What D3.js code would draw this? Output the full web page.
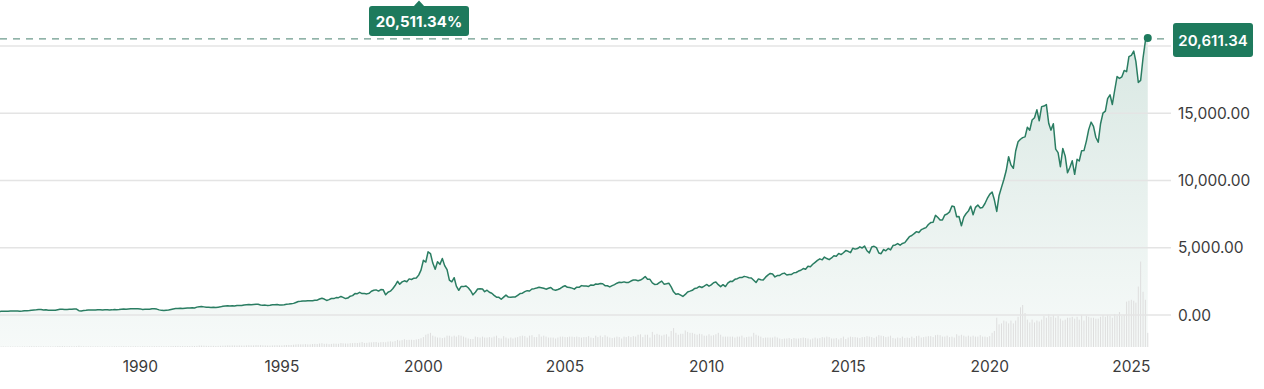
<!DOCTYPE html>
<html>
<head>
<meta charset="utf-8">
<script src="https://cdn.jsdelivr.net/npm/d3@7"></script>
<style>
  html, body { margin: 0; padding: 0; background: #fff; }
  svg { display: block; font-family: Inter, "Noto Sans", sans-serif; }
</style>
</head>
<body>
<svg id="chart" width="1264" height="389"></svg>
<script>
// monthly closes, first value = Dec 1984, each value dated at the end of its month
const closes1980s = [
  247.1,
  278.7, 284.2, 279.2, 280.6, 290.8, 296.2, 301.3, 298.0, 280.3, 292.5, 313.9, 324.9,
  335.8, 359.5, 374.7, 383.2, 400.2, 405.5, 371.4, 382.9, 350.7, 360.8, 359.6, 349.3,
  392.1, 424.0, 430.1, 417.8, 416.5, 424.7, 434.9, 454.9, 444.3, 323.3, 305.2, 330.5,
  344.7, 366.6, 374.6, 379.2, 370.3, 394.7, 387.3, 376.6, 387.7, 382.5, 371.5, 381.4,
  401.3, 399.7, 406.7, 427.6, 446.2, 435.3, 453.8, 469.3, 472.9, 456.1, 456.1, 454.8
];
const closes1990s = [
  415.8, 425.8, 435.5, 420.1, 459.0, 462.3, 438.2, 381.2, 344.5, 329.8, 359.1, 373.8,
  414.2, 453.1, 482.3, 484.7, 506.1, 475.9, 502.0, 525.7, 526.9, 543.0, 523.9, 586.3,
  620.2, 633.5, 603.8, 578.7, 585.3, 563.6, 580.8, 563.1, 583.3, 605.2, 652.7, 677.0,
  696.3, 670.8, 690.1, 661.4, 700.5, 704.0, 704.7, 742.8, 762.8, 779.3, 754.4, 776.8,
  800.5, 792.5, 743.5, 733.8, 735.2, 706.0, 722.2, 765.6, 764.3, 777.5, 750.3, 752.0,
  755.2, 793.7, 817.2, 844.0, 864.6, 933.5, 1001.2, 1020.1, 1043.5, 1036.1, 1059.2, 1052.1,
  1059.8, 1100.1, 1101.4, 1190.5, 1243.4, 1185.0, 1080.6, 1141.5, 1226.9, 1221.5, 1292.6, 1291.0,
  1379.9, 1309.0, 1221.7, 1260.8, 1400.3, 1442.1, 1593.8, 1587.3, 1685.7, 1593.6, 1600.6, 1570.4,
  1619.4, 1770.5, 1835.7, 1868.4, 1778.9, 1894.7, 1872.4, 1499.3, 1693.8, 1771.4, 1949.5, 2192.7,
  2505.9, 2288.0, 2461.4, 2542.9, 2470.5, 2686.1, 2638.5, 2739.4, 2746.2, 2966.4, 3336.2, 4069.3
];
const closes2000s = [
  3940.4, 4696.7, 4572.8, 3860.7, 3400.9, 3966.1, 3767.0, 4206.4, 3672.8, 3369.6, 2597.9, 2470.5,
  2772.7, 2151.8, 1840.3, 2116.2, 2110.5, 2160.5, 2027.1, 1805.4, 1498.8, 1690.2, 1930.6, 1950.4,
  1934.0, 1731.5, 1845.4, 1688.2, 1615.7, 1463.2, 1328.3, 1314.9, 1172.1, 1329.8, 1478.8, 1335.5,
  1320.9, 1337.5, 1341.2, 1464.3, 1595.9, 1622.8, 1735.0, 1810.5, 1786.9, 1932.2, 1960.3, 2003.4,
  2066.2, 2029.8, 1994.2, 1920.2, 1986.7, 2047.8, 1887.4, 1838.1, 1896.8, 1975.0, 2096.8, 2175.4,
  2062.4, 2051.7, 1999.2, 1921.7, 2068.2, 2057.0, 2184.8, 2152.1, 2151.7, 2120.3, 2232.8, 2205.3,
  2305.8, 2281.4, 2339.8, 2322.6, 2178.9, 2172.1, 2091.5, 2183.8, 2258.4, 2366.7, 2431.8, 2415.3,
  2463.9, 2416.2, 2421.6, 2525.1, 2604.5, 2603.2, 2546.3, 2596.4, 2701.5, 2859.1, 2661.0, 2652.3,
  2389.9, 2271.5, 2279.1, 2412.8, 2522.7, 2293.0, 2325.6, 2367.5, 2091.9, 1721.0, 1535.6, 1577.0,
  1476.4, 1377.8, 1528.6, 1717.3, 1774.3, 1835.0, 1978.5, 2009.1, 2122.4, 2045.1, 2144.6, 2269.2
];
const closes2010s = [
  2147.4, 2238.3, 2398.0, 2461.2, 2257.0, 2109.2, 2254.7, 2114.0, 2368.6, 2507.4, 2498.2, 2652.9,
  2700.1, 2782.3, 2781.1, 2873.5, 2835.3, 2773.5, 2756.4, 2579.5, 2415.4, 2684.4, 2620.3, 2605.2,
  2813.8, 2966.9, 3091.6, 3046.4, 2827.3, 2935.1, 2939.5, 3067.0, 3116.2, 2977.2, 3010.2, 3019.5,
  3142.1, 3160.2, 3267.5, 3328.8, 3455.9, 3403.3, 3626.4, 3589.9, 3771.5, 3919.7, 4059.9, 4176.6,
  4103.9, 4308.1, 4199.0, 4114.6, 4242.6, 4408.2, 4369.8, 4580.3, 4493.4, 4630.7, 4791.6, 4736.1,
  4635.2, 4963.5, 4900.9, 4941.4, 5070.0, 4986.9, 5128.3, 4776.5, 4620.2, 5053.8, 5108.7, 5007.4,
  4614.0, 4558.0, 4869.8, 4775.4, 4948.1, 4842.7, 5162.1, 5213.2, 5312.0, 5189.1, 5323.7, 5383.1,
  5614.8, 5825.4, 5911.7, 6047.6, 6198.5, 6140.4, 6348.1, 6428.7, 6496.0, 6727.7, 6874.0, 6903.4,
  7411.5, 7273.0, 7063.4, 7066.3, 7442.1, 7510.3, 7671.8, 8109.5, 8046.4, 7305.9, 7330.5, 6635.3,
  7281.7, 7532.5, 7729.3, 8095.4, 7453.1, 8006.2, 8175.4, 7962.9, 7999.3, 8292.4, 8665.5, 8972.6
];
const closes2020s = [
  9150.9, 8567.4, 7700.1, 8889.6, 9489.9, 10058.8, 10745.3, 11775.5, 11167.5, 10911.6, 12198.7, 12888.3,
  13070.7, 13192.3, 13246.9, 13962.7, 13748.7, 14504.0, 14672.7, 15259.2, 14448.6, 15498.4, 15537.7, 15645.0,
  14239.9, 13751.4, 14220.5, 12334.6, 12081.4, 11028.7, 12390.7, 11816.2, 10575.6, 10988.2, 11468.0, 10466.5,
  11584.6, 11455.5, 12221.9, 12226.6, 12935.3, 13787.9, 14346.0, 14035.0, 13219.3, 12851.2, 14226.2, 15011.4,
  15164.0, 16091.9, 16379.5, 15657.8, 16735.0, 17732.6, 17599.4, 17713.6, 18189.2, 18095.2, 19218.2, 19310.8,
  19627.4, 18847.3, 17299.3, 17446.3, 19113.8, 20369.7
];
const lastClose = 20611.34;
const lastDate = new Date(2025, 7, 1);

// monthly volume (billions of shares), first value = Jan 1985
const vol1980s = [
  1.0, 1.1, 1.0, 1.0, 1.1, 1.0, 1.1, 1.0, 1.0, 1.1, 1.2, 1.2,
  1.4, 1.5, 1.6, 1.5, 1.4, 1.4, 1.3, 1.3, 1.3, 1.3, 1.3, 1.3,
  1.8, 1.9, 2.0, 1.8, 1.6, 1.6, 1.6, 1.7, 1.6, 2.6, 1.5, 1.4,
  1.3, 1.4, 1.4, 1.3, 1.2, 1.4, 1.2, 1.1, 1.1, 1.1, 1.1, 1.2,
  1.4, 1.3, 1.4, 1.4, 1.6, 1.5, 1.4, 1.6, 1.5, 1.6, 1.4, 1.3
];
const vol1990s = [
  1.6, 1.4, 1.5, 1.4, 1.6, 1.7, 1.7, 1.6, 1.4, 1.4, 1.5, 1.4,
  1.9, 2.1, 2.2, 2.3, 2.0, 2.0, 2.0, 1.9, 2.1, 2.3, 2.1, 2.4,
  3.0, 3.0, 2.8, 2.6, 2.3, 2.4, 2.4, 2.1, 2.4, 2.6, 2.8, 2.9,
  3.4, 3.2, 3.3, 3.2, 3.1, 3.3, 3.0, 3.0, 3.4, 3.6, 3.4, 3.5,
  3.9, 3.7, 3.9, 3.4, 3.3, 3.1, 3.0, 3.3, 3.5, 3.6, 3.4, 3.3,
  4.0, 4.2, 4.4, 4.2, 4.8, 5.4, 5.8, 5.6, 5.6, 6.0, 5.5, 5.6,
  6.4, 6.6, 6.2, 7.4, 8.0, 6.6, 7.0, 6.0, 6.5, 7.2, 7.0, 6.8,
  8.4, 7.8, 7.4, 7.2, 8.0, 8.2, 8.6, 8.4, 9.2, 10.5, 8.6, 8.8,
  9.6, 9.8, 10.4, 10.6, 9.2, 10.2, 10.4, 10.0, 11.4, 12.0, 11.2, 12.6,
  15.0, 13.4, 14.6, 16.4, 15.0, 15.2, 15.4, 14.8, 16.0, 17.0, 18.6, 21.0
];
const vol2000s = [
  26, 28, 30, 24, 22, 20, 20, 19, 20, 24, 24, 22,
  24, 22, 25, 24, 22, 20, 18, 17, 17, 22, 21, 20,
  22, 20, 20, 21, 20, 22, 24, 19, 18, 23, 20, 18,
  20, 18, 20, 21, 23, 24, 23, 20, 24, 25, 21, 21,
  27, 22, 24, 22, 20, 20, 20, 18, 20, 22, 22, 21,
  21, 22, 22, 21, 22, 21, 20, 21, 21, 23, 20, 19,
  24, 21, 24, 21, 25, 22, 20, 19, 20, 22, 21, 18,
  22, 21, 23, 21, 23, 22, 26, 27, 21, 26, 26, 20,
  32, 26, 28, 26, 24, 26, 27, 22, 34, 40, 30, 26,
  28, 28, 35, 32, 30, 30, 28, 26, 28, 27, 24, 24
];
const vol2010s = [
  27, 24, 25, 27, 30, 26, 22, 22, 22, 22, 22, 20,
  22, 22, 24, 20, 21, 22, 22, 30, 26, 24, 22, 19,
  20, 20, 20, 20, 22, 20, 18, 17, 18, 18, 19, 17,
  19, 18, 18, 19, 20, 19, 18, 16, 18, 20, 18, 19,
  21, 20, 22, 21, 18, 18, 19, 16, 19, 22, 17, 20,
  22, 21, 21, 20, 19, 21, 21, 23, 22, 21, 19, 22,
  25, 24, 23, 21, 22, 24, 19, 18, 20, 19, 22, 19,
  20, 19, 22, 19, 23, 24, 20, 21, 22, 23, 23, 21,
  25, 26, 25, 22, 22, 24, 21, 22, 20, 27, 24, 26,
  24, 22, 24, 22, 24, 22, 22, 25, 22, 22, 21, 23
];
const vol2020s = [
  30, 34, 62, 48, 50, 56, 54, 50, 56, 50, 56, 64,
  84, 89, 72, 58, 52, 58, 52, 56, 54, 58, 66, 62,
  70, 64, 68, 62, 66, 60, 56, 58, 62, 62, 64, 60,
  64, 58, 68, 56, 66, 64, 62, 62, 60, 60, 64, 68,
  64, 68, 66, 62, 70, 66, 74, 66, 68, 96, 98, 100,
  98, 94, 128, 181, 117, 100, 30
];

const yTicks = [0, 5000, 10000, 15000, 20000];
const xTickYears = [1990, 1995, 2000, 2005, 2010, 2015, 2020, 2025];
const changeLabel = "20,511.34%";

const green = "#1e7a5d";
const lineColor = "#2a7d62";
const textColor = "#3b3b3b";

const svg = d3.select("#chart");

const x = d3.scaleTime()
  .domain([new Date(1990, 0, 1), new Date(2020, 0, 1)])
  .range([140.3, 989.7]);
const y = d3.scaleLinear().domain([0, 20000]).range([315, 46.1]);
const v = d3.scaleLinear().domain([0, 180]).range([347, 262]);

const closes = [].concat(closes1980s, closes1990s, closes2000s, closes2010s, closes2020s);
const series = closes.map((c, i) => ({ date: d3.timeMonth.offset(new Date(1985, 0, 1), i), value: c }));
series.push({ date: lastDate, value: lastClose });

const vols = [].concat(vol1980s, vol1990s, vol2000s, vol2010s, vol2020s);
const volData = vols.map((d, i) => ({ date: d3.timeMonth.offset(new Date(1985, 1, 1), i), vol: d }));

// gradient under the line
const defs = svg.append("defs");
const grad = defs.append("linearGradient")
  .attr("id", "fillGrad")
  .attr("gradientUnits", "userSpaceOnUse")
  .attr("x1", 0).attr("y1", 38).attr("x2", 0).attr("y2", 347);
grad.append("stop").attr("offset", 0).attr("stop-color", lineColor).attr("stop-opacity", 0.18);
grad.append("stop").attr("offset", 1).attr("stop-color", lineColor).attr("stop-opacity", 0.04);

svg.append("path")
  .datum(series)
  .attr("fill", "url(#fillGrad)")
  .attr("d", d3.area().x(d => x(d.date)).y0(v(0)).y1(d => y(d.value)));

// volume bars
svg.append("g")
  .selectAll("rect")
  .data(volData)
  .join("rect")
  .attr("x", d => x(d.date) - 0.5)
  .attr("width", 1)
  .attr("y", d => v(d.vol))
  .attr("height", d => v(0) - v(d.vol))
  .attr("fill", "#dedede");

// gridlines
svg.append("g")
  .selectAll("line")
  .data(yTicks)
  .join("line")
  .attr("x1", 0).attr("x2", 1171)
  .attr("y1", d => y(d)).attr("y2", d => y(d))
  .attr("stroke", "#e4e4e4")
  .attr("stroke-width", 1.5);

// y labels
svg.append("g")
  .selectAll("text")
  .data(yTicks)
  .join("text")
  .attr("x", 1178)
  .attr("y", d => y(d))
  .attr("dominant-baseline", "central")
  .attr("font-size", 15.5)
  .attr("fill", textColor)
  .text(d => d3.format(",.2f")(d));

// x labels
svg.append("g")
  .selectAll("text")
  .data(xTickYears)
  .join("text")
  .attr("x", d => x(new Date(d, 0, 1)))
  .attr("y", 366)
  .attr("text-anchor", "middle")
  .attr("dominant-baseline", "central")
  .attr("font-size", 15.5)
  .attr("fill", textColor)
  .text(d => d);

// price line
svg.append("path")
  .datum(series)
  .attr("fill", "none")
  .attr("stroke", lineColor)
  .attr("stroke-width", 1.5)
  .attr("stroke-linejoin", "round")
  .attr("d", d3.line().x(d => x(d.date)).y(d => y(d.value)));

// last value marker
const lastY = y(lastClose);
svg.append("line")
  .attr("x1", 0).attr("x2", 1170)
  .attr("y1", lastY + 1).attr("y2", lastY + 1)
  .attr("stroke", "#6c9a8c")
  .attr("stroke-width", 1.3)
  .attr("stroke-dasharray", "7,6");

svg.append("circle")
  .attr("cx", x(lastDate))
  .attr("cy", lastY)
  .attr("r", 4)
  .attr("fill", green);

// right badge
svg.append("rect")
  .attr("x", 1173).attr("y", 23)
  .attr("width", 80).attr("height", 34)
  .attr("rx", 3)
  .attr("fill", green);
svg.append("text")
  .attr("x", 1213).attr("y", 40.5)
  .attr("text-anchor", "middle")
  .attr("dominant-baseline", "central")
  .attr("font-size", 15)
  .attr("font-weight", 600)
  .attr("fill", "#fff")
  .text(d3.format(",.2f")(lastClose));

// top change badge
svg.append("path")
  .attr("d", "M413,7 L419,0.5 L425,7 Z")
  .attr("fill", green);
svg.append("rect")
  .attr("x", 369).attr("y", 6)
  .attr("width", 100).attr("height", 30)
  .attr("rx", 3)
  .attr("fill", green);
svg.append("text")
  .attr("x", 419).attr("y", 21.5)
  .attr("text-anchor", "middle")
  .attr("dominant-baseline", "central")
  .attr("font-size", 15)
  .attr("font-weight", 700)
  .attr("fill", "#fff")
  .text(changeLabel);
</script>
</body>
</html>
